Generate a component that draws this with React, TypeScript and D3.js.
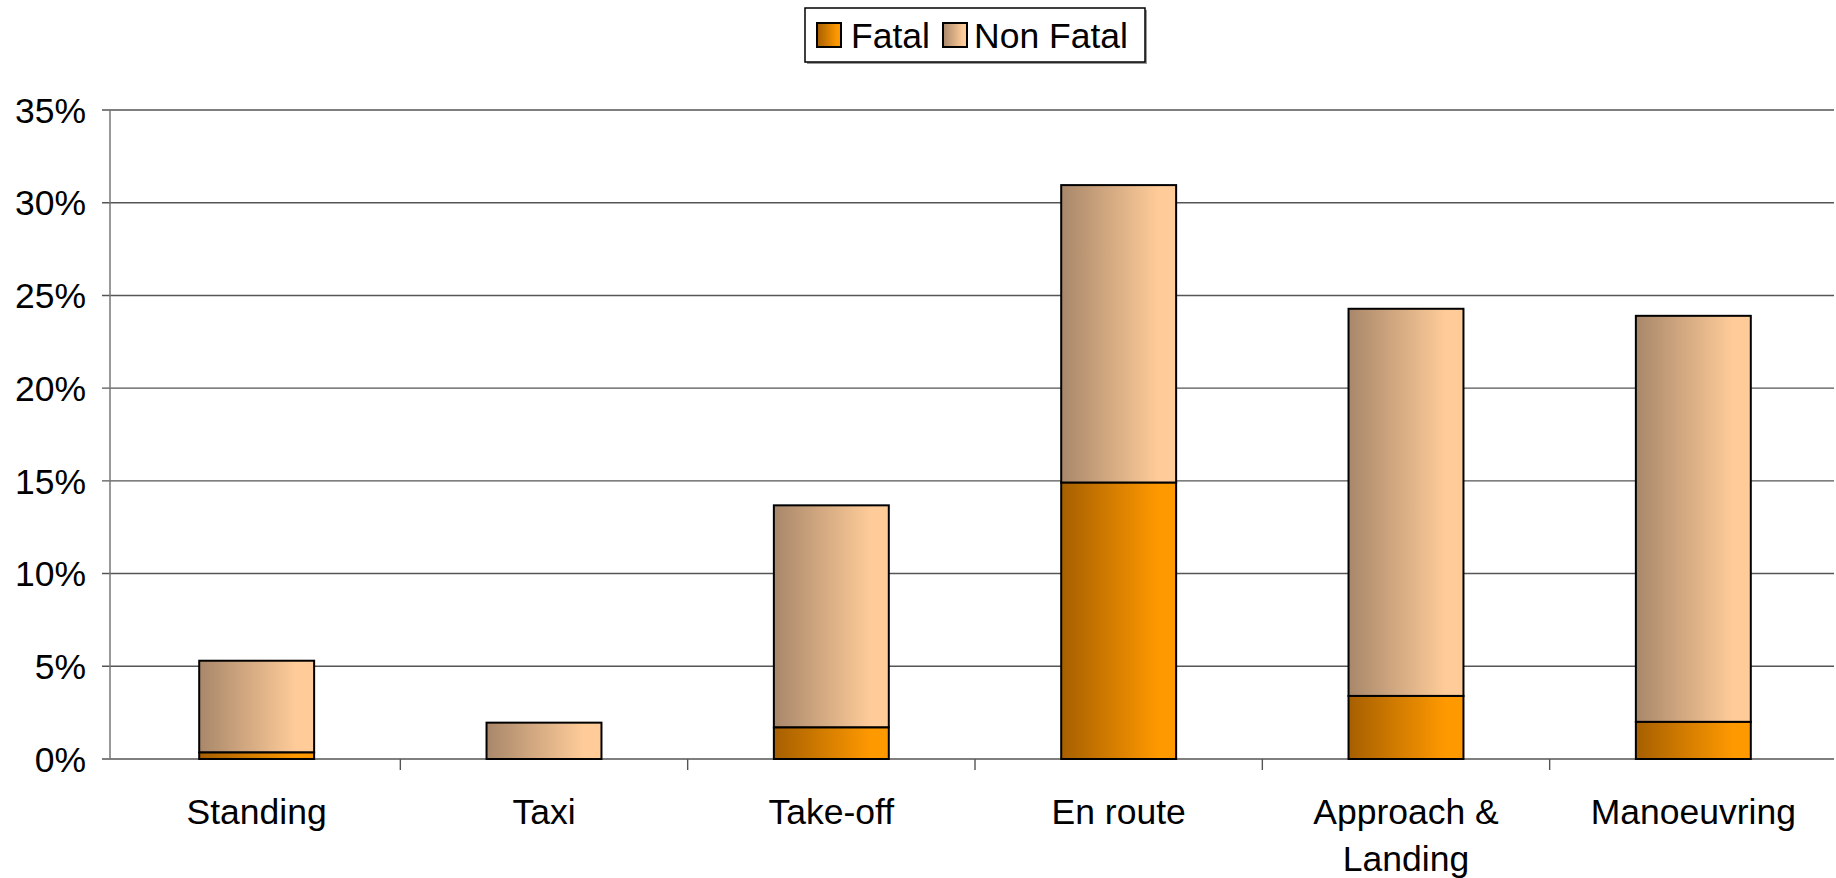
import React from "react";
import * as d3 from "d3";

const categories: string[][] = [["Standing"], ["Taxi"], ["Take-off"], ["En route"], ["Approach &", "Landing"], ["Manoeuvring"]];
const fatal = [0.35, 0, 1.7, 14.9, 3.4, 2.0];
const nonFatal = [4.95, 1.96, 11.98, 16.05, 20.88, 21.9];
const yTicks = [0, 5, 10, 15, 20, 25, 30, 35];
const seriesNames = ["Fatal", "Non Fatal"];

const W = 1836;
const H = 878;
const left = 110;
const right = 1834;
const top = 110;
const bottom = 759;
const FONT = "'Liberation Sans', Arial, sans-serif";
const FS = 35.5;

export default function App() {
  const keys = categories.map((c) => c.join(" "));
  const x = d3.scaleBand<string>().domain(keys).range([left + 3, right + 3]).paddingInner(0.6).paddingOuter(0.3);
  const y = d3.scaleLinear().domain([0, 35]).range([bottom, top]);
  const step = (right - left) / keys.length;

  return (
    <svg width={W} height={H} style={{ position: "absolute", left: 0, top: 0, background: "#fff" }} fontFamily={FONT}>
      <defs>
        <linearGradient id="gFatal" x1="0" x2="1" y1="0" y2="0">
          <stop offset="0" stopColor="#a65f00" />
          <stop offset="0.85" stopColor="#ff9900" />
          <stop offset="1" stopColor="#ff9900" />
        </linearGradient>
        <linearGradient id="gNon" x1="0" x2="1" y1="0" y2="0">
          <stop offset="0" stopColor="#a8876a" />
          <stop offset="0.85" stopColor="#ffcc99" />
          <stop offset="1" stopColor="#ffcc99" />
        </linearGradient>
      </defs>
      {yTicks.map((t) => (
        <g key={t}>
          <line x1={left - 8} x2={right} y1={y(t)} y2={y(t)} stroke="#555" strokeWidth={1.4} />
          <text x={86} y={y(t)} dy="0.36em" textAnchor="end" fontSize={FS} fill="#000">
            {t}%
          </text>
        </g>
      ))}
      <line x1={left} x2={left} y1={top} y2={bottom} stroke="#777" strokeWidth={1.5} />
      {keys.map((k, i) => (
        <line key={k} x1={left + 3 + step * (i + 1)} x2={left + 3 + step * (i + 1)} y1={bottom} y2={bottom + 11} stroke="#555" strokeWidth={1.4} />
      ))}
      {keys.map((k, i) => {
        const x0 = x(k)!;
        const bw = x.bandwidth();
        const f = fatal[i];
        const n = nonFatal[i];
        return (
          <g key={k}>
            {n > 0 && (
              <rect x={x0} y={y(f + n)} width={bw} height={y(f) - y(f + n)} fill="url(#gNon)" stroke="#000" strokeWidth={2} />
            )}
            {f > 0 && (
              <rect x={x0} y={y(f)} width={bw} height={y(0) - y(f)} fill="url(#gFatal)" stroke="#000" strokeWidth={2} />
            )}
          </g>
        );
      })}
      {categories.map((lines, i) => (
        <text key={i} x={x(keys[i])! + x.bandwidth() / 2} y={811} textAnchor="middle" fontSize={FS} fill="#000">
          {lines.map((l, j) => (
            <tspan key={j} x={x(keys[i])! + x.bandwidth() / 2} y={811 + j * 47} dy="0.36em">
              {l}
            </tspan>
          ))}
        </text>
      ))}
      <g>
        <rect x={807} y={10} width={340} height={54} fill="#999" />
        <rect x={805} y={8} width={340} height={54} fill="#fff" stroke="#000" strokeWidth={1.5} />
        <rect x={817} y={23} width={24} height={24} fill="url(#gFatal)" stroke="#000" strokeWidth={2} />
        <text x={851} y={35} dy="0.36em" fontSize={FS}>{seriesNames[0]}</text>
        <rect x={943} y={23} width={24} height={24} fill="url(#gNon)" stroke="#000" strokeWidth={2} />
        <text x={974} y={35} dy="0.36em" fontSize={FS}>{seriesNames[1]}</text>
      </g>
    </svg>
  );
}
